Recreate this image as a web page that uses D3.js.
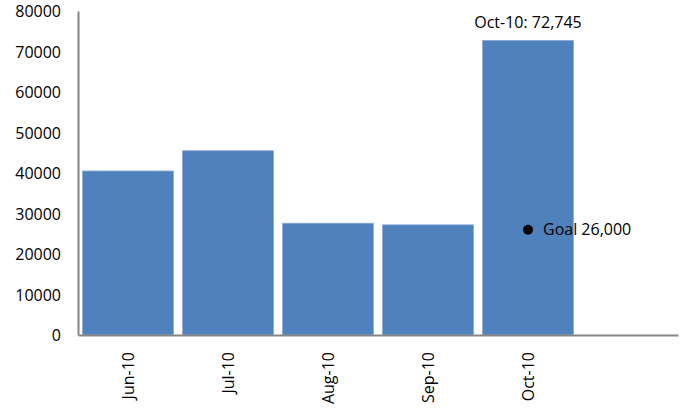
<!DOCTYPE html>
<html>
<head>
<meta charset="utf-8">
<script src="https://cdn.jsdelivr.net/npm/d3@7"></script>
<style>
  body { margin: 0; background: #fff; }
  text { font-family: "Open Sans", sans-serif; fill: #000; }
</style>
</head>
<body>
<div class="myChart"></div>
<script>
// data
var months = ["Jun-10", "Jul-10", "Aug-10", "Sep-10", "Oct-10", ""];
var visits = [40500, 45500, 27600, 27200, 72745];
var yTicks = [0, 10000, 20000, 30000, 40000, 50000, 60000, 70000, 80000];
var goalMonth = "Oct-10";
var goalValue = 26000;

var svgWidth = 681;
var svgHeight = 408;
var chartMargin = { top: 11, right: 3, bottom: 73, left: 78 };
var chartWidth = svgWidth - chartMargin.left - chartMargin.right;
var chartHeight = svgHeight - chartMargin.top - chartMargin.bottom;

var svg = d3.select(".myChart")
  .append("svg")
  .attr("width", svgWidth)
  .attr("height", svgHeight);

var chart = svg.append("g")
  .attr("transform", "translate(" + chartMargin.left + "," + chartMargin.top + ")");

var xScale = d3.scaleBand()
  .domain(months)
  .range([0, chartWidth])
  .paddingInner(0.09)
  .paddingOuter(0.045);

var yScale = d3.scaleLinear()
  .domain([0, 80000])
  .range([chartHeight, 0]);

// bars
chart.selectAll("rect.bar")
  .data(visits)
  .enter().append("rect")
  .attr("class", "bar")
  .attr("x", function(d, i) { return xScale(months[i]); })
  .attr("y", function(d) { return yScale(d); })
  .attr("width", xScale.bandwidth())
  .attr("height", function(d) { return chartHeight - yScale(d); })
  .attr("fill", "#4f81bd")
  .attr("stroke", "#8eaad6")
  .attr("stroke-width", 0.8);

// y axis
var leftAxis = d3.axisLeft(yScale).tickValues(yTicks).tickSize(0).tickPadding(17).tickFormat(d3.format("d"));
var yAxis = chart.append("g").call(leftAxis);
yAxis.select(".domain").attr("stroke", "#868686").attr("stroke-width", 2);
yAxis.selectAll("text").style("font-size", "16px").attr("dy", "0.36em");

// x axis
var bottomAxis = d3.axisBottom(xScale).tickSize(0).tickPadding(0);
var xAxis = chart.append("g")
  .attr("transform", "translate(0," + chartHeight + ")")
  .call(bottomAxis);
xAxis.select(".domain").attr("stroke", "#868686").attr("stroke-width", 2);
xAxis.selectAll("text")
  .style("font-size", "16px")
  .style("text-anchor", "end")
  .attr("transform", "rotate(-90)")
  .attr("x", -17)
  .attr("y", 0)
  .attr("dy", "0.36em");

// Oct label over the bar
var last = visits.length - 1;
chart.append("text")
  .attr("x", xScale(months[last]) + xScale.bandwidth() / 2)
  .attr("y", yScale(visits[last]) - 12)
  .style("text-anchor", "middle")
  .style("font-size", "16px")
  .text(months[last] + ": " + d3.format(",")(visits[last]));

// goal point
var gx = xScale(goalMonth) + xScale.bandwidth() / 2;
chart.append("circle")
  .attr("cx", gx)
  .attr("cy", yScale(goalValue))
  .attr("r", 5)
  .attr("fill", "#000");

chart.append("text")
  .attr("x", gx + 15)
  .attr("y", yScale(goalValue))
  .attr("dy", "0.36em")
  .style("font-size", "16px")
  .text("Goal " + d3.format(",")(goalValue));
</script>
</body>
</html>
